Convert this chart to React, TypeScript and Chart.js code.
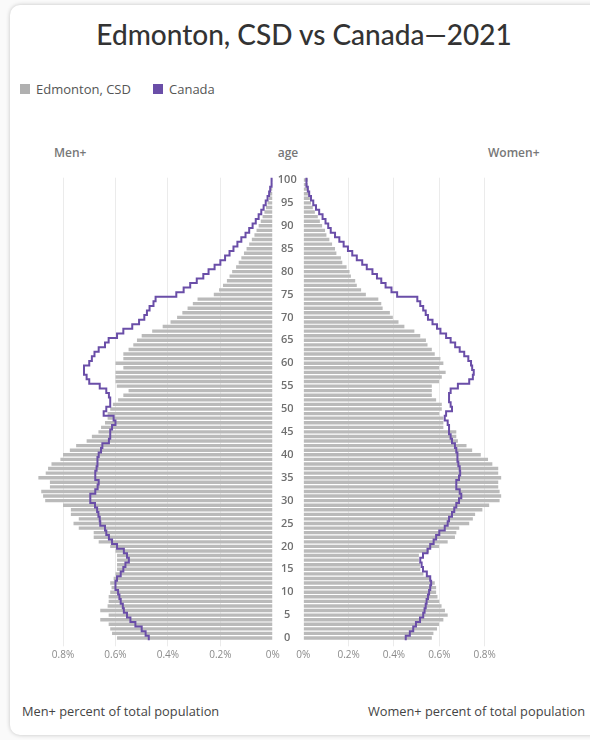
import React, { useEffect, useRef } from "react";
import { Chart, registerables } from "chart.js";

Chart.register(...registerables);

// index = age (0..100), values in percent of total population
const MEN_EDMONTON = [
  0.594, 0.613, 0.62, 0.626, 0.658, 0.626, 0.658, 0.63, 0.626, 0.626,
  0.62, 0.615, 0.62, 0.607, 0.6, 0.594, 0.594, 0.594, 0.594, 0.6,
  0.62, 0.664, 0.683, 0.683, 0.74, 0.76, 0.74, 0.77, 0.77, 0.8,
  0.868, 0.876, 0.883, 0.85, 0.85, 0.894, 0.866, 0.857, 0.844, 0.81,
  0.8, 0.774, 0.75, 0.71, 0.69, 0.665, 0.655, 0.64, 0.63, 0.63,
  0.62, 0.61, 0.59, 0.57, 0.55, 0.595, 0.6, 0.6, 0.6, 0.57,
  0.6, 0.57, 0.57, 0.55, 0.532, 0.518, 0.5, 0.46, 0.42, 0.39,
  0.365, 0.345, 0.325, 0.305, 0.287, 0.225, 0.205, 0.19, 0.175, 0.165,
  0.155, 0.14, 0.13, 0.12, 0.11, 0.1, 0.09, 0.08, 0.07, 0.062,
  0.054, 0.046, 0.039, 0.032, 0.026, 0.02, 0.015, 0.011, 0.008, 0.005,
  0.003,
];

const MEN_CANADA = [
  0.473, 0.485, 0.5, 0.524, 0.543, 0.556, 0.568, 0.572, 0.58, 0.585,
  0.59, 0.6, 0.6, 0.594, 0.58, 0.57, 0.562, 0.549, 0.556, 0.568,
  0.594, 0.613, 0.625, 0.635, 0.64, 0.658, 0.66, 0.665, 0.67, 0.678,
  0.696, 0.696, 0.677, 0.668, 0.664, 0.677, 0.677, 0.672, 0.67, 0.668,
  0.664, 0.655, 0.65, 0.625, 0.62, 0.62, 0.613, 0.6, 0.607, 0.645,
  0.635, 0.62, 0.62, 0.625, 0.635, 0.66, 0.7, 0.71, 0.72, 0.72,
  0.7, 0.69, 0.68, 0.664, 0.64, 0.626, 0.594, 0.57, 0.536, 0.51,
  0.49, 0.48, 0.47, 0.455, 0.447, 0.368, 0.34, 0.315, 0.29, 0.265,
  0.245, 0.222, 0.2, 0.182, 0.165, 0.15, 0.135, 0.12, 0.104, 0.09,
  0.077, 0.065, 0.054, 0.044, 0.035, 0.027, 0.02, 0.014, 0.01, 0.006,
  0.004,
];

const WOMEN_EDMONTON = [
  0.567, 0.574, 0.59, 0.599, 0.618, 0.637, 0.625, 0.61, 0.6, 0.592,
  0.586, 0.586, 0.58, 0.56, 0.53, 0.516, 0.515, 0.51, 0.51, 0.555,
  0.599, 0.637, 0.669, 0.675, 0.688, 0.732, 0.748, 0.758, 0.79, 0.82,
  0.866, 0.873, 0.866, 0.86, 0.86, 0.873, 0.86, 0.86, 0.834, 0.815,
  0.783, 0.745, 0.72, 0.682, 0.675, 0.675, 0.618, 0.618, 0.618, 0.6,
  0.611, 0.611, 0.586, 0.567, 0.567, 0.567, 0.599, 0.611, 0.628, 0.599,
  0.618, 0.605, 0.58, 0.567, 0.548, 0.541, 0.516, 0.49, 0.446, 0.42,
  0.395, 0.382, 0.35, 0.344, 0.331, 0.276, 0.255, 0.236, 0.229, 0.21,
  0.204, 0.191, 0.172, 0.166, 0.146, 0.14, 0.127, 0.115, 0.102, 0.096,
  0.083, 0.073, 0.064, 0.051, 0.042, 0.034, 0.029, 0.025, 0.022, 0.019,
  0.02,
];

const WOMEN_CANADA = [
  0.452, 0.47, 0.485, 0.497, 0.515, 0.529, 0.535, 0.54, 0.544, 0.55,
  0.555, 0.56, 0.564, 0.56, 0.545, 0.528, 0.522, 0.516, 0.528, 0.548,
  0.56, 0.575, 0.586, 0.6, 0.624, 0.637, 0.643, 0.656, 0.666, 0.675,
  0.687, 0.697, 0.69, 0.675, 0.675, 0.687, 0.692, 0.69, 0.684, 0.68,
  0.68, 0.675, 0.669, 0.656, 0.65, 0.643, 0.643, 0.637, 0.624, 0.63,
  0.656, 0.65, 0.643, 0.643, 0.65, 0.682, 0.732, 0.748, 0.752, 0.745,
  0.74, 0.728, 0.71, 0.69, 0.67, 0.65, 0.63, 0.605, 0.59, 0.57,
  0.55, 0.54, 0.529, 0.516, 0.503, 0.414, 0.389, 0.363, 0.344, 0.325,
  0.305, 0.28, 0.26, 0.236, 0.216, 0.197, 0.178, 0.159, 0.14, 0.121,
  0.11, 0.098, 0.085, 0.07, 0.056, 0.044, 0.034, 0.026, 0.02, 0.016,
  0.013,
];

const X_TICKS = [0, 0.2, 0.4, 0.6, 0.8];
const AGE_TICK_STEP = 5;

const TITLE = "Edmonton, CSD vs Canada\u20142021";
const SERIES_LOCAL = "Edmonton, CSD";
const SERIES_NATIONAL = "Canada";

const BAR_COLOR = "#bababa";
const LINE_COLOR = "#6a4ea8";

function barPoints(vals: number[]) {
  return vals.map((v, age) => ({ x: v, y: age }));
}
function stepPoints(vals: number[]) {
  const pts: { x: number; y: number }[] = [];
  vals.forEach((v, age) => {
    pts.push({ x: v, y: age - 0.5 });
    pts.push({ x: v, y: age + 0.5 });
  });
  return pts;
}

const CANVAS_H = 510;

function makeConfig(side: "left" | "right"): any {
  const bars = side === "left" ? MEN_EDMONTON : WOMEN_EDMONTON;
  const line = side === "left" ? MEN_CANADA : WOMEN_CANADA;
  const left = side === "left";
  return {
    type: "bar",
    data: {
      datasets: [
        {
          type: "line",
          label: SERIES_NATIONAL,
          data: stepPoints(line),
          borderColor: LINE_COLOR,
          borderWidth: 2,
          pointRadius: 0,
          fill: false,
          tension: 0,
          clip: false,
          order: 0,
        },
        {
          type: "bar",
          label: SERIES_LOCAL,
          data: barPoints(bars),
          backgroundColor: BAR_COLOR,
          borderWidth: 0,
          categoryPercentage: 1,
          barPercentage: 0.74,
          order: 1,
        },
      ],
    },
    options: {
      indexAxis: "y",
      animation: false,
      responsive: false,
      maintainAspectRatio: false,
      layout: {
        padding: left
          ? { left: 36.8, right: 0, top: 17.7, bottom: 0 }
          : { left: 23.3, right: 51.5, top: 17.7, bottom: 0 },
      },
      plugins: {
        legend: { display: false },
        tooltip: { enabled: false },
        title: { display: false },
      },
      scales: {
        x: {
          type: "linear",
          position: "bottom",
          reverse: left,
          min: 0,
          max: 0.9,
          afterBuildTicks: (scale: any) => {
            scale.ticks = X_TICKS.map((v) => ({ value: v }));
          },
          afterFit: (scale: any) => {
            scale.height = 29.7;
          },
          border: { display: false },
          grid: {
            color: (ctx: any) =>
              ctx.tick && ctx.tick.value === 0 ? "rgba(0,0,0,0)" : "#ebebeb",
            drawTicks: true,
            tickLength: 6,
            lineWidth: 1,
          },
          ticks: {
            padding: 3,
            color: "#8a8a8a",
            font: { family: "'Open Sans', sans-serif", size: 10 },
            callback: (v: number) => (v === 0 ? "0%" : v.toFixed(1) + "%"),
          },
        },
        y: {
          type: "linear",
          position: "right",
          display: left,
          min: -0.5,
          max: 100.5,
          offset: false,
          afterFit: (scale: any) => {
            scale.width = 31.2;
          },
          border: { display: false },
          grid: { display: false, drawTicks: false, offset: false },
          ticks: {
            stepSize: AGE_TICK_STEP,
            autoSkip: false,
            includeBounds: false,
            crossAlign: "center",
            padding: 5,
            color: "#6f6f6f",
            font: { family: "'Open Sans', sans-serif", size: 11, weight: "600" },
          },
        },
      },
    },
  };
}

function Panel({ side, style }: { side: "left" | "right"; style: React.CSSProperties }) {
  const ref = useRef<HTMLCanvasElement | null>(null);
  useEffect(() => {
    if (!ref.current) return;
    const chart = new Chart(ref.current, makeConfig(side));
    return () => chart.destroy();
  }, [side]);
  const w = side === "left" ? 304 : 310;
  return (
    <canvas
      ref={ref}
      width={w}
      height={CANVAS_H}
      style={{ position: "absolute", width: w, height: CANVAS_H, ...style }}
    />
  );
}

const sans = "'Open Sans', sans-serif";

export default function App() {
  return (
    <div
      style={{
        position: "absolute",
        left: 0,
        top: 0,
        width: 590,
        height: 740,
        overflow: "hidden",
        background: "#fafafa",
        fontFamily: sans,
      }}
    >
      <div
        style={{
          position: "absolute",
          left: 10,
          top: 5,
          width: 600,
          height: 730,
          background: "#ffffff",
          borderRadius: 10,
          boxShadow: "0 0 4px rgba(0,0,0,0.22)",
        }}
      />
      <div
        style={{
          position: "absolute",
          left: 0,
          width: 608,
          top: 16,
          lineHeight: "36px",
          textAlign: "center",
          fontFamily: "Lato, sans-serif",
          fontWeight: 500,
          fontSize: 28,
          color: "#333333",
          whiteSpace: "nowrap",
        }}
      >
        {TITLE}
      </div>
      {/* legend */}
      <div style={{ position: "absolute", left: 20, top: 84, width: 10, height: 10, background: "#b0b0b0" }} />
      <div style={{ position: "absolute", left: 36, top: 80, lineHeight: "18px", fontSize: 13, color: "#555555", whiteSpace: "nowrap" }}>
        {SERIES_LOCAL}
      </div>
      <div style={{ position: "absolute", left: 153, top: 84, width: 10, height: 10, background: LINE_COLOR }} />
      <div style={{ position: "absolute", left: 169, top: 80, lineHeight: "18px", fontSize: 13, color: "#555555", whiteSpace: "nowrap" }}>
        {SERIES_NATIONAL}
      </div>
      {/* panel headers */}
      <div style={{ position: "absolute", left: 54, top: 145, lineHeight: "16px", fontSize: 12, fontWeight: 600, color: "#777777" }}>Men+</div>
      <div style={{ position: "absolute", left: 258, width: 60, textAlign: "center", top: 145, lineHeight: "16px", fontSize: 12, fontWeight: 600, color: "#777777" }}>age</div>
      <div style={{ position: "absolute", left: 488, top: 145, lineHeight: "16px", fontSize: 12, fontWeight: 600, color: "#777777" }}>Women+</div>

      <Panel side="left" style={{ left: 0, top: 160 }} />
      <Panel side="right" style={{ left: 280, top: 160 }} />

      {/* footer */}
      <div style={{ position: "absolute", left: 22, top: 702, lineHeight: "18px", fontSize: 12.8, color: "#444444", whiteSpace: "nowrap" }}>
        Men+ percent of total population
      </div>
      <div style={{ position: "absolute", right: 5, top: 702, lineHeight: "18px", fontSize: 12.8, color: "#444444", whiteSpace: "nowrap", textAlign: "right" }}>
        Women+ percent of total population
      </div>
    </div>
  );
}
